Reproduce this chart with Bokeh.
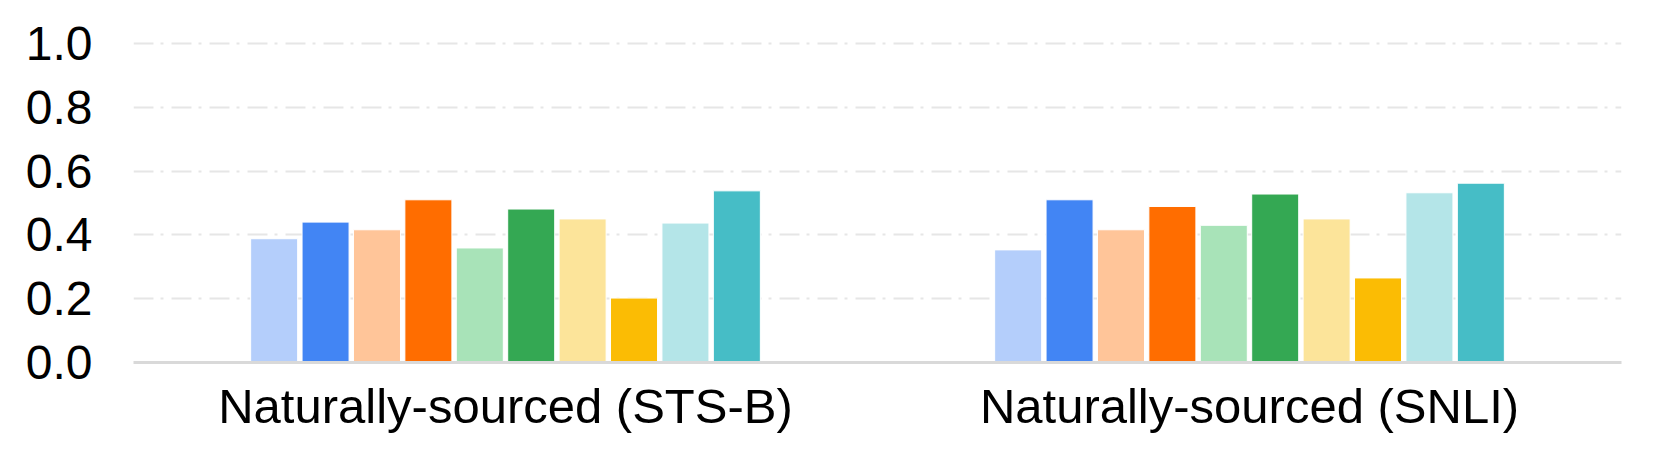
from bokeh.plotting import figure
from bokeh.models import ColumnDataSource, FactorRange, FixedTicker, NumeralTickFormatter
from bokeh.transform import dodge
from bokeh.embed import file_html
from bokeh.resources import INLINE

categories = ["Naturally-sourced (STS-B)", "Naturally-sourced (SNLI)"]
sts_b = [0.388, 0.440, 0.416, 0.510, 0.359, 0.481, 0.450, 0.202, 0.437, 0.538]
snli = [0.353, 0.510, 0.416, 0.489, 0.430, 0.528, 0.450, 0.265, 0.532, 0.562]
colors = ["#b4cefb", "#4285f4", "#ffc599", "#ff6d00", "#a8e3b8",
          "#34a853", "#fce49a", "#fbbc04", "#b4e5e8", "#46bdc6"]
y_ticks = [0.0, 0.2, 0.4, 0.6, 0.8, 1.0]

p = figure(x_range=FactorRange(factors=categories), y_range=(0, 1.05),
           width=1645, height=442, output_backend="svg", toolbar_location=None,
           min_border_left=133, min_border_right=24, min_border_top=27, min_border_bottom=80)

pitch = 0.0691
bw = 0.0632
n = len(colors)
for i in range(n):
    src = ColumnDataSource(dict(cat=categories, top=[sts_b[i], snli[i]]))
    p.vbar(x=dodge("cat", (i - (n - 1) / 2) * pitch, range=p.x_range), top="top",
           width=bw, source=src, fill_color=colors[i], line_color="white", line_width=1)

p.outline_line_color = None
p.xgrid.grid_line_color = None
p.ygrid.grid_line_color = "#e6e6e6"
p.ygrid.grid_line_width = 2
p.ygrid.grid_line_dash = "20 7 3 8"
p.ygrid.ticker = FixedTicker(ticks=y_ticks)

p.yaxis.ticker = FixedTicker(ticks=y_ticks)
p.yaxis.formatter = NumeralTickFormatter(format="0.0")
p.yaxis.axis_line_color = None
p.yaxis.major_tick_line_color = None
p.yaxis.minor_tick_line_color = None
p.yaxis.major_tick_out = 0
p.yaxis.major_label_standoff = 41
p.yaxis.major_label_text_font = "Liberation Sans"
p.yaxis.major_label_text_font_size = "48px"
p.yaxis.major_label_text_color = "black"

p.xaxis.axis_line_color = "#d9d9d9"
p.xaxis.axis_line_width = 3
p.xaxis.major_tick_line_color = None
p.xaxis.major_tick_out = 0
p.xaxis.major_label_standoff = 16
p.xaxis.major_label_text_font = "Liberation Sans"
p.xaxis.major_label_text_font_size = "49px"
p.xaxis.major_label_text_color = "black"

open("out.html", "w").write(file_html(p, INLINE))
